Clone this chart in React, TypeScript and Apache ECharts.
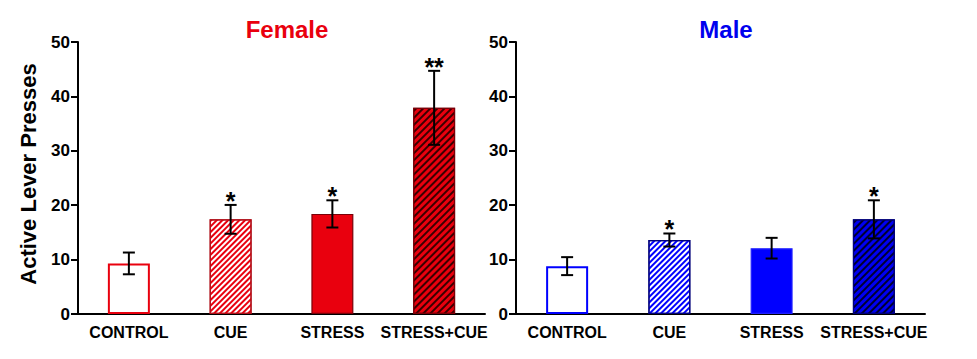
import React, { useEffect, useRef } from "react";
import * as echarts from "echarts";

const categories = ["CONTROL", "CUE", "STRESS", "STRESS+CUE"];
const femaleMeans = [9.3, 17.4, 18.4, 37.9];
const femaleErrors = [2.0, 2.65, 2.5, 6.8];
const femaleStars = ["", "*", "*", "**"];
const maleMeans = [8.8, 13.6, 12.1, 17.4];
const maleErrors = [1.65, 1.2, 1.9, 3.5];
const maleStars = ["", "*", "", "*"];
const yTicks = { min: 0, max: 50, interval: 10 };

const FONT = '"Liberation Sans", Arial, Helvetica, sans-serif';
const RED = "#e9000e";
const BLUE = "#0000ff";

const hatch = (color: string, stripe: number, gap: number) => ({
  symbol: "rect",
  symbolSize: 1,
  dashArrayX: [1, 0],
  dashArrayY: [stripe, gap],
  rotation: -Math.PI / 4,
  color,
});

const femaleStyles = [
  { color: "#ffffff", borderColor: RED, borderWidth: 2 },
  { color: "#ffffff", borderColor: "#b0101a", borderWidth: 1.2, decal: hatch(RED, 1.8, 1.9) },
  { color: RED, borderColor: "#7a0008", borderWidth: 1.2 },
  { color: RED, borderColor: "#7a0008", borderWidth: 1.2, decal: hatch("#3a0000", 1.1, 2.6) },
];
const maleStyles = [
  { color: "#ffffff", borderColor: BLUE, borderWidth: 2 },
  { color: "#ffffff", borderColor: "#00007a", borderWidth: 1.2, decal: hatch(BLUE, 1.8, 1.9) },
  { color: BLUE, borderColor: "#2020ff", borderWidth: 1.2 },
  { color: "#0000f2", borderColor: "#00007a", borderWidth: 1.2, decal: hatch("#000030", 1.1, 2.6) },
];

function makeErrorSeries(idx: number, means: number[], errs: number[], stars: string[]) {
  return {
    type: "custom",
    xAxisIndex: idx,
    yAxisIndex: idx,
    clip: false,
    z: 10,
    encode: { x: 0, y: 1 },
    data: means.map((m, i) => [i, m, errs[i]]),
    renderItem: (params: any, api: any) => {
      const x = api.value(0);
      const m = api.value(1);
      const e = api.value(2);
      const top = api.coord([x, m + e]);
      const bot = api.coord([x, m - e]);
      const half = 6;
      const ls = { stroke: "#000", lineWidth: 2 };
      const star = stars[params.dataIndex];
      const children: any[] = [
        { type: "line", shape: { x1: top[0], y1: top[1], x2: bot[0], y2: bot[1] }, style: ls },
        { type: "line", shape: { x1: top[0] - half, y1: top[1], x2: top[0] + half, y2: top[1] }, style: ls },
        { type: "line", shape: { x1: bot[0] - half, y1: bot[1], x2: bot[0] + half, y2: bot[1] }, style: ls },
      ];
      if (star) {
        children.push({
          type: "text",
          x: top[0],
          y: top[1] - 4,
          style: {
            text: star,
            fill: "#000",
            font: `bold 25px ${FONT}`,
            align: "center",
            verticalAlign: "middle",
          },
        });
      }
      return { type: "group", children };
    },
  };
}

const axisText = { color: "#000", fontWeight: "bold" as const, fontSize: 16, fontFamily: FONT };

function xAxisFor(idx: number) {
  return {
    type: "category",
    gridIndex: idx,
    data: categories,
    boundaryGap: true,
    axisLine: { lineStyle: { color: "#000", width: 2 } },
    axisTick: { alignWithLabel: true, length: 6, lineStyle: { color: "#000", width: 2 } },
    axisLabel: { ...axisText, margin: 10, interval: 0 },
    splitLine: { show: false },
  };
}

function yAxisFor(idx: number) {
  return {
    type: "value",
    gridIndex: idx,
    min: yTicks.min,
    max: yTicks.max,
    interval: yTicks.interval,
    axisLine: { show: true, lineStyle: { color: "#000", width: 2 } },
    axisTick: { show: true, length: 7, lineStyle: { color: "#000", width: 2 } },
    axisLabel: { ...axisText, fontSize: 17, margin: 8 },
    splitLine: { show: false },
  };
}

export default function App() {
  const ref = useRef<HTMLDivElement>(null);
  useEffect(() => {
    if (!ref.current) return;
    const chart = echarts.init(ref.current, null, { renderer: "svg" });
    chart.setOption({
      animation: false,
      backgroundColor: "#ffffff",
      title: [
        {
          text: "Female",
          left: 282,
          top: 12,
          textAlign: "center",
          textStyle: { color: RED, fontSize: 24, fontWeight: "bold", fontFamily: FONT },
        },
        {
          text: "Male",
          left: 721,
          top: 12,
          textAlign: "center",
          textStyle: { color: "#0000ee", fontSize: 24, fontWeight: "bold", fontFamily: FONT },
        },
      ],
      graphic: [
        {
          type: "text",
          x: 28,
          y: 174,
          rotation: Math.PI / 2,
          style: {
            text: "Active Lever Presses",
            fill: "#000",
            font: `bold 22px ${FONT}`,
            align: "center",
            verticalAlign: "middle",
          },
        },
      ],
      grid: [
        { left: 78, top: 42, width: 407, height: 272, containLabel: false },
        { left: 516, top: 42, width: 409, height: 272, containLabel: false },
      ],
      xAxis: [xAxisFor(0), xAxisFor(1)],
      yAxis: [yAxisFor(0), yAxisFor(1)],
      series: [
        {
          type: "bar",
          xAxisIndex: 0,
          yAxisIndex: 0,
          barWidth: 42,
          data: femaleMeans.map((v, i) => ({ value: v, itemStyle: femaleStyles[i] })),
        },
        {
          type: "bar",
          xAxisIndex: 1,
          yAxisIndex: 1,
          barWidth: 42,
          data: maleMeans.map((v, i) => ({ value: v, itemStyle: maleStyles[i] })),
        },
        makeErrorSeries(0, femaleMeans, femaleErrors, femaleStars),
        makeErrorSeries(1, maleMeans, maleErrors, maleStars),
      ],
    });
    return () => chart.dispose();
  }, []);
  return (
    <div
      ref={ref}
      style={{ position: "absolute", left: 0, top: 0, width: 977, height: 359 }}
    />
  );
}
